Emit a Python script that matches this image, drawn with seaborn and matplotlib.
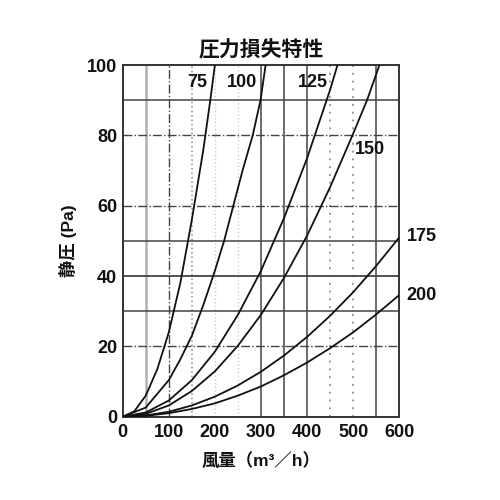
import matplotlib
matplotlib.use("Agg")
import matplotlib.pyplot as plt
import seaborn as sns
import pandas as pd

# Duct diameter series (mm); airflow (m3/h) vs static pressure (Pa)
series_names = ["75", "100", "125", "150", "175", "200"]

q75 = [0, 25, 50, 75, 100, 125, 150, 175, 190, 200]
p75 = [0, 1.5, 6, 13.5, 24, 38, 56, 76, 90, 100]

q100 = [0, 50, 100, 125, 150, 175, 200, 220, 240, 260, 282, 299, 310]
p100 = [0, 2.6, 10.4, 16.3, 23, 31.8, 41.5, 50, 60, 70, 80, 90, 100]

q125 = [0, 50, 100, 150, 200, 250, 300, 350, 400, 450, 466]
p125 = [0, 1.2, 4.6, 10.4, 18.5, 29, 41.5, 56.5, 73.5, 93, 100]

q150 = [0, 50, 100, 150, 200, 250, 300, 350, 400, 450, 500, 530, 557]
p150 = [0, 0.8, 3.2, 7.3, 12.9, 20.2, 29, 39.5, 51.5, 65.3, 80.5, 90, 100]

q175 = [0, 50, 100, 150, 200, 250, 300, 350, 400, 450, 500, 550, 600]
p175 = [0, 0.35, 1.4, 3.2, 5.7, 8.9, 12.8, 17.4, 22.7, 28.7, 35.4, 42.9, 51]

q200 = [0, 50, 100, 150, 200, 250, 300, 350, 400, 450, 500, 550, 600]
p200 = [0, 0.24, 1.0, 2.2, 3.8, 6.0, 8.6, 11.8, 15.4, 19.5, 24.0, 29.1, 34.6]

x_ticks = [0, 100, 200, 300, 400, 500, 600]
y_ticks = [0, 20, 40, 60, 80, 100]

title = "圧力損失特性"
x_label = "風量（m³／h）"
y_label = "静圧 (Pa)"

qs = [q75, q100, q125, q150, q175, q200]
ps = [p75, p100, p125, p150, p175, p200]
rows = []
for name, q, p in zip(series_names, qs, ps):
    for a, b in zip(q, p):
        rows.append({"Q": a, "P": b, "d": name})
df = pd.DataFrame(rows)

sns.set_theme(style="white")
plt.rcParams["font.family"] = ["Liberation Sans", "Noto Sans CJK JP", "DejaVu Sans"]

fig = plt.figure(figsize=(5, 5), dpi=100)
ax = fig.add_axes([0.2454, 0.1666, 0.5532, 0.7034])

# grid lines (mixed styles as in the scanned original)
dark = "#444444"
light = "#9a9a9a"
vgrid = [(50, "-", "#b0b0b0", 1.8), (100, "-.", dark, 1.0), (150, ":", light, 1.2),
         (200, ":", "#cccccc", 1.0), (250, ":", "#cccccc", 1.0),
         (300, "-", dark, 1.1), (350, "-", dark, 1.1), (400, "-", dark, 1.1),
         (450, (0, (1, 3)), light, 1.4), (500, (0, (1, 3)), light, 1.4), (550, "-", dark, 1.1)]
for xv, ls, c, lw in vgrid:
    ax.axvline(xv, ls=ls, color=c, lw=lw, zorder=1)
hgrid = [(20, "-.", dark, 1.0), (30, "-", dark, 1.1), (40, "-", dark, 1.3),
         (50, "-", dark, 1.1), (60, "-.", dark, 1.0), (80, "-.", dark, 1.0), (90, "-", dark, 1.1)]
for yv, ls, c, lw in hgrid:
    ax.axhline(yv, ls=ls, color=c, lw=lw, zorder=1)

sns.lineplot(data=df, x="Q", y="P", hue="d", palette=["#111111"] * 6,
             estimator=None, sort=False, legend=False, lw=1.3, ax=ax, zorder=3)

ax.set_xlim(0, 600)
ax.set_ylim(0, 100)
ax.set_xticks(x_ticks)
ax.set_yticks(y_ticks)
ax.tick_params(axis="both", length=0, labelsize=13, colors="#111111")
ax.tick_params(axis="x", pad=5)
ax.tick_params(axis="y", pad=4)
for lab in ax.get_xticklabels() + ax.get_yticklabels():
    lab.set_fontweight("bold")
for s in ax.spines.values():
    s.set_color("#333333")
    s.set_linewidth(1.4)

ax.set_xlabel(x_label, fontsize=12.5, labelpad=8, color="#111111", fontweight="bold")
ax.set_ylabel(y_label, fontsize=12.5, labelpad=7, color="#111111", fontweight="bold")
ax.set_title(title, fontsize=15, pad=6, color="#111111", fontweight="bold")

lab_kw = dict(fontsize=13, color="#111111", ha="center", va="center", zorder=4,
              fontweight="bold")
ax.text(161, 95, "75", **lab_kw)
ax.text(259, 95, "100", **lab_kw)
ax.text(413, 95, "125", **lab_kw)
ax.text(536, 76, "150", **lab_kw)
ax.text(649, 51.3, "175", clip_on=False, **lab_kw)
ax.text(649, 34.6, "200", clip_on=False, **lab_kw)

fig.savefig("out.png", dpi=100, facecolor="white")
